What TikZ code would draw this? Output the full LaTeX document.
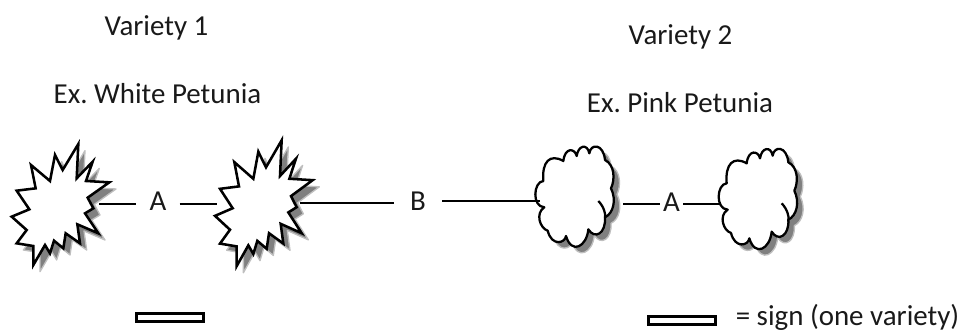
\documentclass[tikz,border=0pt]{standalone}
\usepackage{fontspec}
\setmainfont{Carlito}
\frenchspacing
\newcommand{\burstpath}{(235,72) -- (230,175) -- (278,125) -- (258,183) -- (328,187) -- (263,233) -- (280,265) -- (255,280) -- (295,340) -- (232,313) -- (240,370) -- (197,340) -- (190,385) -- (162,362) -- (150,400) -- (135,375) -- (100,435) -- (100,378) -- (50,370) -- (80,330) -- (35,290) -- (88,268) -- (50,212) -- (107,205) -- (93,135) -- (150,183) -- (165,105) -- (188,150) -- cycle}
\newcommand{\cloudoutline}{(130,243) .. controls (125,185) and (150,160) .. (190,183) .. controls (195,140) and (225,145) .. (230,168) .. controls (235,135) and (262,130) .. (268,160) .. controls (272,130) and (310,130) .. (315,180) .. controls (345,195) and (345,240) .. (333,265) .. controls (350,300) and (340,340) .. (315,352) .. controls (318,400) and (285,420) .. (265,388) .. controls (260,440) and (215,465) .. (198,408) .. controls (195,430) and (155,440) .. (143,392) .. controls (120,385) and (105,340) .. (133,322) .. controls (95,320) and (100,245) .. (130,243) -- cycle}
\tikzset{
  px/.style={x=0.75pt,y=-0.75pt},
  zoomA/.style={x=0.25pt,y=-0.25pt,yshift=-90pt},
  caption/.style={font=\fontsize{21.7pt}{25pt}\selectfont,text=black!90,inner sep=0pt,anchor=base},
  linelabel/.style={font=\fontsize{21.7pt}{25pt}\selectfont,text=black!90,inner ysep=0pt,anchor=base},
  wire/.style={draw=black,line width=1.05pt},
  outline/.style={draw=black,line width=1.9pt,fill=white,line join=miter},
  cloudline/.style={draw=black,line width=1.7pt,fill=white,line join=round},
  dropshade/.style={fill=black!50,draw=black!25,line width=1pt,line join=round},
  signbar/.style={draw=black,line width=2.1pt,fill=white}
}
\begin{document}
\begin{tikzpicture}[px]
\useasboundingbox (0,0) rectangle (966,331);
% bursts
\begin{scope}[zoomA]
  \begin{scope}[shift={(20,20)}] \path[dropshade] \burstpath; \end{scope}
  \path[outline] \burstpath;
  \begin{scope}[shift={(630,6)},yscale=1.04] \path[dropshade] \burstpath; \end{scope}
  \begin{scope}[shift={(610,-14)},yscale=1.04] \path[outline] \burstpath; \end{scope}
\end{scope}
% clouds
\begin{scope}[x=0.25pt,y=-0.25pt,xshift=375pt,yshift=-75pt]
  \begin{scope}[shift={(18,18)}] \path[dropshade] \cloudoutline; \end{scope}
  \path[cloudline] \cloudoutline;
  \draw[draw=black,line width=1.7pt] (295,303) .. controls (312,320) and (318,345) .. (315,352);
  \begin{scope}[shift={(568,25)}] \path[dropshade] \cloudoutline; \end{scope}
  \begin{scope}[shift={(550,7)}]
    \path[cloudline] \cloudoutline;
    \draw[draw=black,line width=1.7pt] (295,303) .. controls (312,320) and (318,345) .. (315,352);
  \end{scope}
\end{scope}
% connector ends
\coordinate (w1) at (99,204);
\coordinate (w2) at (217,204);
\coordinate (w3) at (300,203);
\coordinate (w4) at (540,201);
\coordinate (w5) at (623,204);
\coordinate (w6) at (720,204);
\node[linelabel,inner xsep=9.75pt] (a1) at (158,211) {A\hspace{3.75pt}};
\node[linelabel,inner xsep=12pt] (b) at (418,211) {B\hspace{2.25pt}};
\node[linelabel,inner xsep=2.25pt] (a2) at (671.5,212) {A\hspace{2.25pt}};
\draw[wire] (w1) -- (w1-|a1.west);
\draw[wire] (w2-|a1.east) -- (w2);
\draw[wire] (w3) -- (w3-|b.west);
\draw[wire] (w4-|b.east) -- (w4);
\draw[wire] (w5) -- (w5-|a2.west);
\draw[wire] (w6-|a2.east) -- (w6);
% captions
\node[caption] (v1) at (156.5,36) {Variety 1};
\node[caption] (ex1) at (157.5,104) {Ex. White Petunia};
\node[caption] (v2) at (680.5,45) {Variety 2};
\node[caption] (ex2) at (680,113) {Ex. Pink Petunia};
\node[caption] (key) at (847.5,325) {= sign (one variety)};
% bars
\node[signbar,minimum width=50pt,minimum height=6.5pt,inner sep=0pt] (bar1) at (170,317.5) {};
\node[signbar,minimum width=50pt,minimum height=6.5pt,inner sep=0pt] (bar2) at (682,320.5) {};
\end{tikzpicture}
\end{document}
